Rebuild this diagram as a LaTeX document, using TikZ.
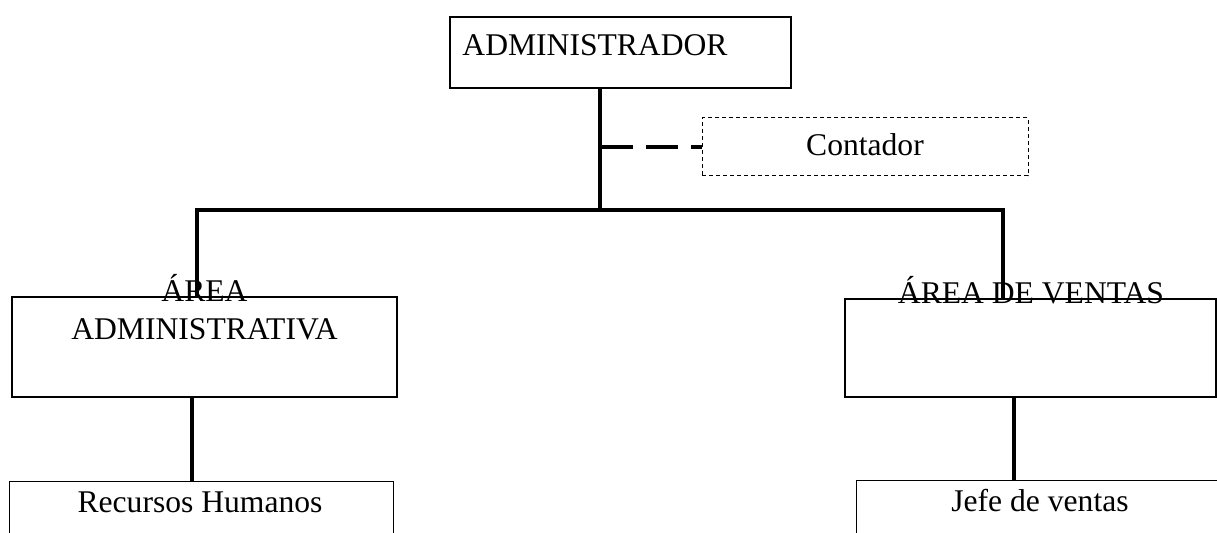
\documentclass[tikz,border=0pt]{standalone}
\usepackage{fontspec}
\setmainfont{Liberation Serif}
\usetikzlibrary{positioning}

\begin{document}
\begin{tikzpicture}[x=0.5pt, y=-0.5pt,
  unit/.style={draw, line width=1pt, inner sep=0, outer sep=0},
  sub/.style={draw, line width=0.5pt, inner sep=0, outer sep=0},
  label text/.style={font=\fontsize{15.8}{19}\selectfont, inner sep=0, anchor=base},
  link/.style={line width=1.6pt}]
  \useasboundingbox (0,0) rectangle (1217,533);
  \clip (0,0) rectangle (1217,533);

  % boxes
  \node[unit, minimum width=170.5pt, minimum height=35.5pt] (admin) at (620.5,52.5) {};
  \node[sub, dash pattern=on 2pt off 1.5pt, minimum width=163pt, minimum height=29pt] (contador) at (865,147) {};
  \node[unit, minimum width=192.5pt, minimum height=50pt] (admva) at (204.5,347) {};
  \node[unit, minimum width=185.5pt, minimum height=49pt] (ventas) at (1030.5,348) {};
  \node[sub, minimum width=192pt, minimum height=38pt] (rrhh) at (201,520) {};
  \node[sub, minimum width=184pt, minimum height=38pt] (jefe) at (1040,519) {};

  % texts
  \node[label text] (admin text) at (595,56) {ADMINISTRADOR};
  \node[label text] (contador text) at (865,156) {Contador};
  \node[label text] (admva text 1) at (204.5,302) {ÁREA};
  \node[label text] (admva text 2) at (204.5,340) {ADMINISTRATIVA};
  \node[label text] (ventas text) at (1031,304) {ÁREA DE VENTAS};
  \node[label text] (rrhh text) at (200,513) {Recursos Humanos};
  \node[label text] (jefe text) at (1040,512) {Jefe de ventas};

  % lines
  \coordinate (bus) at (600,210);
  \coordinate (lbus) at (197,210);
  \coordinate (rbus) at (1003,210);
  \coordinate (ldrop) at (192,440);
  \coordinate (rdrop) at (1014,440);

  \draw[link] (admin.south -| bus) -- (bus);
  \draw[link] (admva.north -| lbus) -- (lbus) -- (rbus) -- (ventas.north -| rbus);
  \draw[link, dash pattern=on 16.25pt off 6.5pt] (bus |- contador.west) -- (contador.west);
  \draw[link] (admva.south -| ldrop) -- (rrhh.north -| ldrop);
  \draw[link] (ventas.south -| rdrop) -- (jefe.north -| rdrop);
\end{tikzpicture}
\end{document}
